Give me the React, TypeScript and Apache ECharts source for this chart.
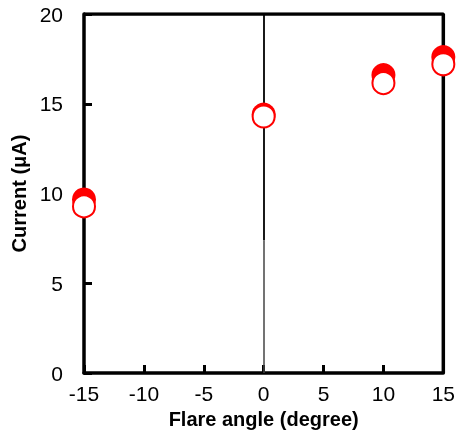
import React, { useEffect, useRef } from "react";
import * as echarts from "echarts";

const xTicks = [-15, -10, -5, 0, 5, 10, 15];
const angles = [-15, 0, 10, 15];
const currentFilled = [9.67, 14.4, 16.6, 17.6];
const currentOpen = [9.28, 14.29, 16.15, 17.2];

export default function App() {
  const ref = useRef<HTMLDivElement>(null);
  useEffect(() => {
    if (!ref.current) return;
    const chart = echarts.init(ref.current, null, { renderer: "svg" });
    const font = "'Liberation Sans', Arial, sans-serif";
    chart.setOption({
      animation: false,
      grid: { left: 84, right: 13, top: 14, bottom: 61, show: false },
      xAxis: {
        type: "value",
        min: -15,
        max: 15,
        interval: 5,
        name: "Flare angle (degree)",
        nameLocation: "middle",
        nameGap: 35,
        nameTextStyle: { fontFamily: font, fontSize: 20, fontWeight: "bold", color: "#000" },
        axisLine: { show: true, onZero: false, lineStyle: { color: "#000", width: 3.5 } },
        axisTick: { show: true, inside: true, length: 8, lineStyle: { color: "#000", width: 3 } },
        axisLabel: {
          fontFamily: font,
          fontSize: 21,
          color: "#000",
          margin: 10,
          formatter: (v: number) => (xTicks.includes(v) ? String(v) : ""),
        },
        splitLine: { show: false },
      },
      yAxis: {
        type: "value",
        min: 0,
        max: 20,
        interval: 5,
        name: "Current (μA)",
        nameLocation: "middle",
        nameGap: 51,
        nameTextStyle: { fontFamily: font, fontSize: 20, fontWeight: "bold", color: "#000" },
        axisLine: { show: true, onZero: false, lineStyle: { color: "#000", width: 3.5 } },
        axisTick: { show: true, inside: true, length: 8, lineStyle: { color: "#000", width: 3 } },
        axisLabel: { fontFamily: font, fontSize: 21, color: "#000", margin: 21 },
        splitLine: { show: false },
      },
      series: [
        {
          type: "line",
          data: [],
          silent: true,
          markLine: {
            silent: true,
            symbol: "none",
            label: { show: false },
            data: [
              [
                { coord: [0, 20], lineStyle: { color: "#000", width: 1.8, type: "solid" } },
                { coord: [0, 7.4] },
              ],
              [
                { coord: [0, 7.4], lineStyle: { color: "#444", width: 1.5, type: "solid" } },
                { coord: [0, 0] },
              ],
            ],
          },
        },
        {
          type: "line",
          data: [
            [-15, 20],
            [15, 20],
            [15, 0],
          ],
          symbol: "none",
          silent: true,
          lineStyle: { color: "#000", width: 3.5 },
          z: 1,
        },
        {
          type: "scatter",
          data: angles.map((a, i) => [a, currentFilled[i]]),
          symbol: "circle",
          symbolSize: 24,
          itemStyle: { color: "#ff0000", opacity: 1 },
          z: 5,
        },
        {
          type: "scatter",
          data: angles.map((a, i) => [a, currentOpen[i]]),
          symbol: "circle",
          symbolSize: 22,
          itemStyle: { color: "#ffffff", borderColor: "#ff0000", borderWidth: 2, opacity: 1 },
          z: 6,
        },
      ],
    });
    return () => chart.dispose();
  }, []);
  return (
    <div
      ref={ref}
      style={{ position: "fixed", left: 0, top: 0, width: 458, height: 434 }}
    />
  );
}
